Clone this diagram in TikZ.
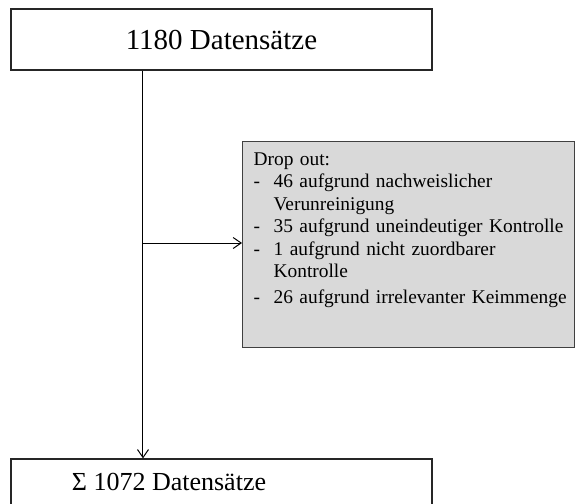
\documentclass[tikz,border=0pt]{standalone}
\usepackage{fontspec}
\setmainfont{Liberation Serif}
\usepackage{xcolor}
\usepackage{tikz}
\usetikzlibrary{calc}
\usetikzlibrary{arrows.meta}
\usetikzlibrary{positioning}
\definecolor{dropgray}{HTML}{D9D9D9}
\definecolor{dropline}{HTML}{404040}
\newcommand*{\dropdash}{\makebox[10pt][l]{-}}
\newcommand*{\dropgap}{\hspace*{10pt}}
\tikzstyle{datanode}=[black, draw=black!85, line width=0.6pt, shape=rectangle, fill=white, minimum width=210.5pt, inner sep=0pt]
\tikzstyle{dropnode}=[black, draw=dropline, line width=0.6pt, shape=rectangle, fill=dropgray, text width=155pt, align=left, inner xsep=5.5pt, inner ysep=5.5pt, font=\fontsize{9.7}{11.25}\selectfont]

\begin{document}
\begin{tikzpicture}[x=0.5pt, y=-0.5pt]
\clip (0,0) rectangle (575,504);
\node [datanode, minimum height=30.5pt, font=\fontsize{14.5}{17}\selectfont] (start) at (221.5,39.5) {1180 Datensätze};
\node [datanode, minimum height=30pt] (sumbox) at (221.5,489) {};
\node [anchor=base west, inner sep=0pt, font=\fontsize{13}{15}\selectfont] (sum) at (71.5,490) {Σ 1072 Datensätze};
\node [dropnode, anchor=north west, text height=6.4pt, text depth=85.6pt] (drop) at (242,141) {Drop out:\\
\mbox{\dropdash 46 aufgrund nachweislicher}\\
\mbox{\dropgap Verunreinigung}\\
\mbox{\dropdash 35 aufgrund uneindeutiger Kontrolle}\\
\mbox{\dropdash 1 aufgrund nicht zuordbarer}\\
\mbox{\dropgap Kontrolle}\\[1.5pt]
\mbox{\dropdash 26 aufgrund irrelevanter Keimmenge}};
\coordinate (split) at (143,243);

\draw[-{Straight Barb[length=4pt, width=5.5pt]}, line width=0.5pt, color=black] (start.south -| split) -- (sumbox.north -| split);
\draw[-{Straight Barb[length=4pt, width=5.5pt]}, line width=0.5pt, color=black] (split) -- (split -| drop.west);
\end{tikzpicture}
\end{document}
